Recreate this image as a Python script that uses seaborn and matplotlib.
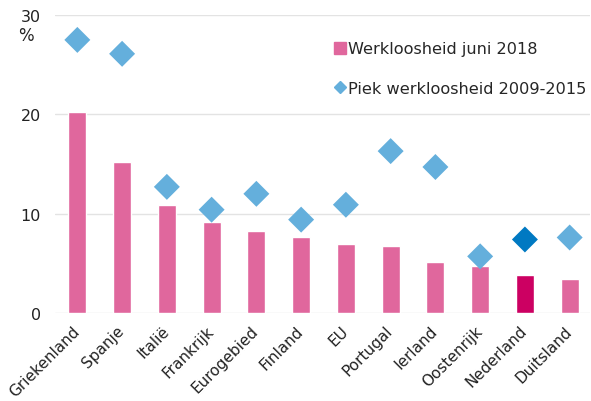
import seaborn as sns
import matplotlib.pyplot as plt
import matplotlib.transforms as mtransforms
import pandas as pd
from matplotlib.lines import Line2D

landen = ['Griekenland', 'Spanje', 'Italië', 'Frankrijk', 'Eurogebied', 'Finland',
          'EU', 'Portugal', 'Ierland', 'Oostenrijk', 'Nederland', 'Duitsland']
juni_2018 = [20.2, 15.2, 10.9, 9.2, 8.3, 7.6, 6.9, 6.7, 5.1, 4.7, 3.8, 3.4]
piek_2009_2015 = [27.5, 26.1, 12.7, 10.4, 12.0, 9.4, 10.9, 16.3, 14.7, 5.7, 7.4, 7.6]

df = pd.DataFrame({'land': landen, 'juni': juni_2018, 'piek': piek_2009_2015})

roze, roze_nl = '#E0679D', '#CC0062'
blauw, blauw_nl = '#64AFDC', '#0079C2'
bar_kleuren = {l: (roze_nl if l == 'Nederland' else roze) for l in landen}
piek_kleuren = {l: (blauw_nl if l == 'Nederland' else blauw) for l in landen}

sns.set_style('white')
plt.rcParams['font.family'] = ['DejaVu Sans']

fig, ax = plt.subplots(figsize=(5.91, 4.02), dpi=100)
fig.subplots_adjust(left=0.093, right=0.998, top=0.96, bottom=0.219)

sns.barplot(data=df, x='land', y='juni', hue='land', palette=bar_kleuren,
            width=0.4, saturation=1, legend=False, ax=ax, zorder=2)
sns.scatterplot(data=df, x='land', y='piek', hue='land', palette=piek_kleuren,
                marker='D', s=175, linewidth=0, legend=False, ax=ax, zorder=3)

ax.set_xlim(-0.5, 11.45)
ax.set_ylim(0, 30)
ax.set_yticks([0, 10, 20, 30])
ax.yaxis.grid(True, color='#E3E3E3', linewidth=1)
ax.set_axisbelow(True)
for s in ax.spines.values():
    s.set_visible(False)
ax.set_xlabel('')
ax.set_ylabel('')
ax.tick_params(axis='y', length=0, labelsize=11.5, pad=10, colors='#222222')
ax.tick_params(axis='x', length=0, labelsize=11, pad=7, colors='#222222')
verschuif = mtransforms.ScaledTranslation(-4 / 72, 0, fig.dpi_scale_trans)
for lab in ax.get_xticklabels():
    lab.set_rotation(45)
    lab.set_ha('right')
    lab.set_rotation_mode('anchor')
    lab.set_transform(lab.get_transform() + verschuif)
ax.text(-0.068, 0.915, '%', transform=ax.transAxes, fontsize=12, color='#222222', ha='left')

handles = [Line2D([], [], marker='s', linestyle='', color=roze, markersize=8),
           Line2D([], [], marker='D', linestyle='', color=blauw, markersize=6)]
ax.legend(handles, ['Werkloosheid juni 2018', 'Piek werkloosheid 2009-2015'],
          loc='upper right', bbox_to_anchor=(1.021, 0.96), frameon=False,
          fontsize=11.6, handletextpad=0.1, handlelength=0.8, labelspacing=1.5)

fig.savefig('out.png')
